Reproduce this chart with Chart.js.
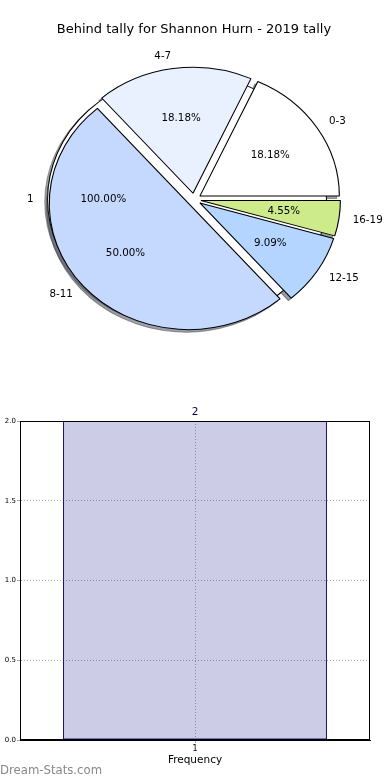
<!DOCTYPE html>
<html>
<head>
<meta charset="utf-8">
<title>Behind tally for Shannon Hurn - 2019 tally</title>
<script src="https://cdn.jsdelivr.net/npm/chart.js@4.4.0/dist/chart.umd.min.js"></script>
<style>
  body { margin: 0; background: #fff; }
  #wrap { position: relative; width: 390px; height: 780px; overflow: hidden; font-family: "DejaVu Sans", sans-serif; }
  #wrap canvas { position: absolute; left: 0; }
  #brand { position: absolute; left: 0; top: 762px; font-size: 11.7px; line-height: 16px; color: #888; }
</style>
</head>
<body>
<div id="wrap">
  <canvas id="pieBack" width="390" height="400" style="top:0"></canvas>
  <canvas id="pieFront" width="390" height="400" style="top:0"></canvas>
  <canvas id="bar" width="390" height="390" style="top:390px"></canvas>
  <div id="brand">Dream-Stats.com</div>
</div>
<script>
Chart.defaults.font.family = '"DejaVu Sans", sans-serif';
Chart.defaults.color = '#000';

// data
const chartTitle = 'Behind tally for Shannon Hurn - 2019 tally';
const tallyRanges = ['0-3', '4-7', '8-11', '12-15', '16-19'];
const tallyCounts = [4, 4, 11, 2, 1];
const tallyColors = ['#ffffff', '#e9f1ff', '#c5d9ff', '#b3d5ff', '#cdeb8b'];
const gameLabels = ['1'];
const gameCounts = [1];
const gameColors = ['#ffffff'];
const freqLabels = ['1'];
const freqValues = [2];
const freqTicks = [0, 0.5, 1, 1.5, 2];

// look of the old matplotlib pie (exploded, shadowed, a bit wider than tall)
const EXPLODE = 0.05;
const SHADOW = 0.02;
const STRETCH = 1.107;
const RADIUS = 126;
const TITLE_SIZE = 13;
const TITLE_PAD = { top: 22, bottom: 10 };
const PIE_PAD = { left: 0, right: 2, bottom: 48.6, top: 0 };

function shadeOf(hex) {
  const n = parseInt(hex.slice(1), 16);
  const r = Math.round(((n >> 16) & 255) * 0.3);
  const g = Math.round(((n >> 8) & 255) * 0.3);
  const b = Math.round((n & 255) * 0.3);
  return `rgba(${r},${g},${b},0.5)`;
}

// how far a slice is pushed out along its middle angle
function slideOut(arc) {
  const mid = (arc.startAngle + arc.endAngle) / 2;
  const d = EXPLODE * arc.outerRadius;
  return [Math.cos(mid) * d, Math.sin(mid) * d];
}

function wedgePath(ctx, arc, dx, dy) {
  const x = arc.x + dx, y = arc.y + dy;
  ctx.beginPath();
  if (arc.endAngle - arc.startAngle >= Math.PI * 2 - 1e-6) {
    ctx.arc(x, y, arc.outerRadius, 0, Math.PI * 2);
  } else {
    ctx.moveTo(x, y);
    ctx.arc(x, y, arc.outerRadius, arc.startAngle, arc.endAngle);
    ctx.closePath();
  }
}

let backChart = null;

const explodedPie = {
  id: 'explodedPie',
  beforeDatasetDraw(chart, args) {
    const ctx = chart.ctx;
    const arcs = args.meta.data;
    const cx = arcs[0].x, cy = arcs[0].y;
    ctx.save();
    ctx.translate(cx, cy);
    ctx.scale(STRETCH, 1);
    ctx.translate(-cx, -cy);

    // shadows, kept outside the full "1" pie that lies underneath
    ctx.save();
    if (backChart && chart !== backChart) {
      const under = backChart.getDatasetMeta(0).data[0];
      const [ux, uy] = slideOut(under);
      ctx.beginPath();
      ctx.rect(-2000, -2000, 4000, 4000);
      ctx.arc(under.x + ux, under.y + uy, under.outerRadius, 0, Math.PI * 2);
      ctx.clip('evenodd');
    }
    arcs.forEach((arc) => {
      const [dx, dy] = slideOut(arc);
      const s = SHADOW * arc.outerRadius;
      wedgePath(ctx, arc, dx - s, dy + s);
      ctx.fillStyle = ctx.strokeStyle = shadeOf(arc.options.backgroundColor);
      ctx.lineWidth = 1;
      ctx.fill();
      ctx.stroke();
    });
    ctx.restore();

    arcs.forEach((arc) => {
      const [dx, dy] = slideOut(arc);
      ctx.save();
      ctx.translate(dx, dy);
      arc.draw(ctx);
      ctx.restore();
      if (!arc.options.borderWidth) {
        // full circle: outline only, no radius line
        wedgePath(ctx, arc, dx, dy);
        ctx.strokeStyle = '#000';
        ctx.lineWidth = 1;
        ctx.stroke();
      }
    });
    ctx.restore();
    return false;
  }
};

// labels of both pies, drawn on top of everything
const pieLabels = {
  id: 'pieLabels',
  afterDatasetsDraw(chart) {
    const ctx = chart.ctx;
    ctx.save();
    ctx.font = '10.3px "DejaVu Sans"';
    ctx.fillStyle = '#000';
    ctx.textBaseline = 'middle';
    [backChart, chart].forEach((c) => {
      if (!c) return;
      const meta = c.getDatasetMeta(0);
      const vals = c.data.datasets[0].data;
      const names = c.data.labels;
      const total = vals.reduce((a, b) => a + b, 0);
      meta.data.forEach((arc, i) => {
        const mid = (arc.startAngle + arc.endAngle) / 2;
        const [dx, dy] = slideOut(arc);
        const r = arc.outerRadius;
        const at = (k) => [
          arc.x + (dx + Math.cos(mid) * k * r) * STRETCH,
          arc.y + dy + Math.sin(mid) * k * r
        ];
        const [lx, ly] = at(1.1);
        ctx.textAlign = lx > arc.x ? 'left' : 'right';
        ctx.fillText(names[i], lx, ly);
        const [px, py] = at(0.6);
        ctx.textAlign = 'center';
        ctx.fillText((vals[i] / total * 100).toFixed(2) + '%', px, py);
      });
    });
    ctx.restore();
  }
};

const quiet = { legend: { display: false }, tooltip: { enabled: false } };

// the single "1" pie underneath
backChart = new Chart(document.getElementById('pieBack'), {
  type: 'pie',
  data: {
    labels: gameLabels,
    datasets: [{
      data: gameCounts,
      backgroundColor: gameColors,
      borderWidth: 0,
      offset: 0,
      hoverOffset: 0
    }]
  },
  options: {
    responsive: false,
    animation: false,
    events: [],
    rotation: 90,
    radius: RADIUS,
    layout: { padding: { ...PIE_PAD, top: TITLE_PAD.top + TITLE_SIZE * 1.2 + TITLE_PAD.bottom } },
    plugins: quiet
  },
  plugins: [explodedPie]
});

// tally ranges: Chart.js goes clockwise, matplotlib went counter-clockwise from 3 o'clock
new Chart(document.getElementById('pieFront'), {
  type: 'pie',
  data: {
    labels: tallyRanges.slice().reverse(),
    datasets: [{
      data: tallyCounts.slice().reverse(),
      backgroundColor: tallyColors.slice().reverse(),
      borderColor: '#000',
      borderWidth: 1,
      offset: 0,
      hoverOffset: 0
    }]
  },
  options: {
    responsive: false,
    animation: false,
    events: [],
    rotation: 90,
    radius: RADIUS,
    layout: { padding: PIE_PAD },
    plugins: {
      ...quiet,
      title: {
        display: true,
        text: chartTitle,
        color: '#000',
        font: { size: TITLE_SIZE, weight: 'normal' },
        padding: TITLE_PAD
      }
    }
  },
  plugins: [explodedPie, pieLabels]
});

// frequency bar chart
const frame = {
  id: 'frame',
  afterDraw(chart) {
    const { ctx, chartArea: a } = chart;
    ctx.save();
    ctx.strokeStyle = '#000';
    ctx.lineWidth = 1;
    ctx.strokeRect(Math.round(a.left) + 0.5, Math.round(a.top) + 0.5,
      Math.round(a.right - a.left) - 1, Math.round(a.bottom - a.top) - 1);
    ctx.restore();
  }
};

const barValue = {
  id: 'barValue',
  afterDatasetsDraw(chart) {
    const ctx = chart.ctx;
    ctx.save();
    ctx.font = '10.5px "DejaVu Sans"';
    ctx.fillStyle = '#00005a';
    ctx.textAlign = 'center';
    ctx.textBaseline = 'bottom';
    chart.getDatasetMeta(0).data.forEach((bar, i) => {
      ctx.fillText(String(freqValues[i]), bar.x, bar.y - 3);
    });
    ctx.restore();
  }
};

const gridLook = { color: '#aaaaaa', tickLength: 3, tickColor: '#aaaaaa', lineWidth: 1 };
const borderLook = { color: '#000', width: 1, dash: [1, 2] };

new Chart(document.getElementById('bar'), {
  type: 'bar',
  data: {
    labels: freqLabels,
    datasets: [{
      data: freqValues,
      backgroundColor: 'rgba(0,0,128,0.2)',
      borderColor: '#000080',
      borderWidth: 1,
      borderSkipped: false,
      barPercentage: 1,
      categoryPercentage: 0.754
    }]
  },
  options: {
    responsive: false,
    animation: false,
    events: [],
    layout: { padding: { top: 31, right: 20, left: 0, bottom: 0 } },
    plugins: quiet,
    scales: {
      x: {
        z: 1,
        grid: { ...gridLook, offset: false },
        border: borderLook,
        ticks: { font: { size: 8 }, color: '#000', padding: 1 },
        title: {
          display: true,
          text: 'Frequency',
          color: '#000',
          font: { size: 10.5 },
          padding: { top: 0, bottom: 13.7 }
        },
        afterFit: (s) => { s.height = 40; }
      },
      y: {
        z: 1,
        min: 0,
        max: 2,
        grid: gridLook,
        border: borderLook,
        ticks: { font: { size: 7 }, color: '#000', padding: 1, callback: (v) => Number(v).toFixed(1) },
        afterBuildTicks: (s) => { s.ticks = freqTicks.map((v) => ({ value: v })); },
        afterFit: (s) => { s.width = 20; }
      }
    }
  },
  plugins: [frame, barValue]
});
</script>
</body>
</html>
